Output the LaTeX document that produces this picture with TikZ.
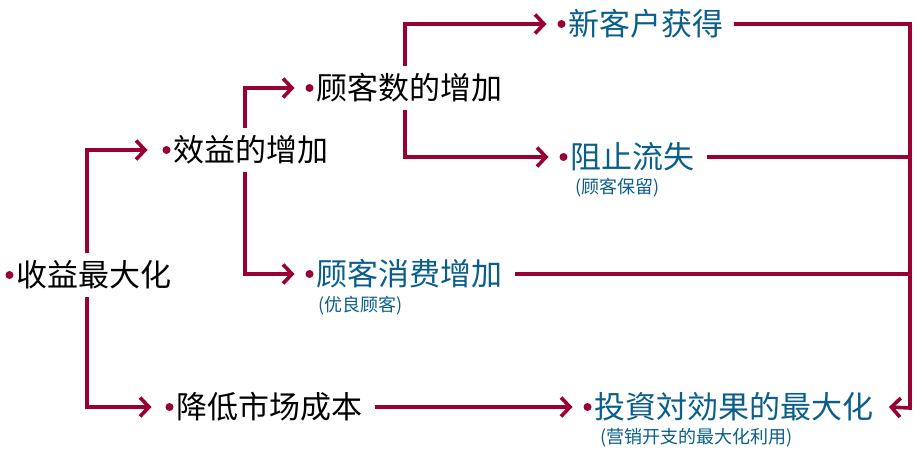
\documentclass[tikz,border=0pt]{standalone}
\usepackage{fontspec}
\setmainfont{Noto Sans CJK SC}
\usetikzlibrary{arrows.meta}
\definecolor{crim}{HTML}{990033}
\definecolor{tblue}{HTML}{0A5E8C}
\begin{document}
\begin{tikzpicture}[x=1pt,y=-1pt,
 item/.style={anchor=west, inner xsep=0pt, inner ysep=7.5pt, font=\fontsize{31}{31}\selectfont},
 blk/.style={item,text=black},
 blu/.style={item,text=tblue},
 sub/.style={anchor=west, inner sep=0pt, text=tblue, font=\fontsize{18}{18}\selectfont},
 line/.style={draw=crim, line width=3.6pt},
 conn/.style={line, -{Straight Barb[length=9pt,width=19pt]}},
 dot/.style={fill=crim}
]
\useasboundingbox (0,0) rectangle (922,455);

\coordinate (v1) at (87,0);
\coordinate (v2) at (245,0);
\coordinate (v3) at (405,0);
\coordinate (rc) at (910,408);

\node[blk] (root) at (16.5,275) {收益最大化};
\node[blk] (eff) at (173.5,150) {效益的增加};
\node[blk] (cnt) at (316.5,88) {顾客数的增加};
\node[blk] (cost) at (176.5,407) {降低市场成本};
\node[blu] (new) at (568.5,24) {新客户获得};
\node[blu] (keep) at (570.5,157) {阻止流失};
\node[blu] (spend) at (316.5,274) {顾客消费增加};
\node[blu] (roi) at (594.5,407) {投資対効果的最大化};

\node[sub] (keepsub) at (575,188) {(顾客保留)};
\node[sub] (spendsub) at (318,306) {(优良顾客)};
\node[sub] (roisub) at (600,438) {(营销开支的最大化利用)};

\foreach \n in {root,eff,cnt,cost,new,keep,spend,roi}
  \fill[dot] ([xshift=-7pt]\n.west) circle (4pt);

\draw[conn] (root.north -| v1) |- ([xshift=-26pt]eff.west);
\draw[conn] (root.south -| v1) |- ([xshift=-25pt]cost.west);
\draw[conn] (eff.north -| v2) |- ([xshift=-22pt]cnt.west);
\draw[conn] (eff.south -| v2) |- ([xshift=-22pt]spend.west);
\draw[conn] (cnt.north -| v3) |- ([xshift=-22pt]new.west);
\draw[conn] (cnt.south -| v3) |- ([xshift=-22pt]keep.west);
\draw[conn] ([xshift=12pt]cost.east) -- ([xshift=-22pt]roi.west);
\draw[conn] ([xshift=10pt]new.east) -| (rc) -- ([xshift=15pt]roi.east);
\draw[line] ([xshift=12pt]keep.east) -- (keep.east -| rc);
\draw[line] ([xshift=12pt]spend.east) -- (spend.east -| rc);
\end{tikzpicture}
\end{document}
